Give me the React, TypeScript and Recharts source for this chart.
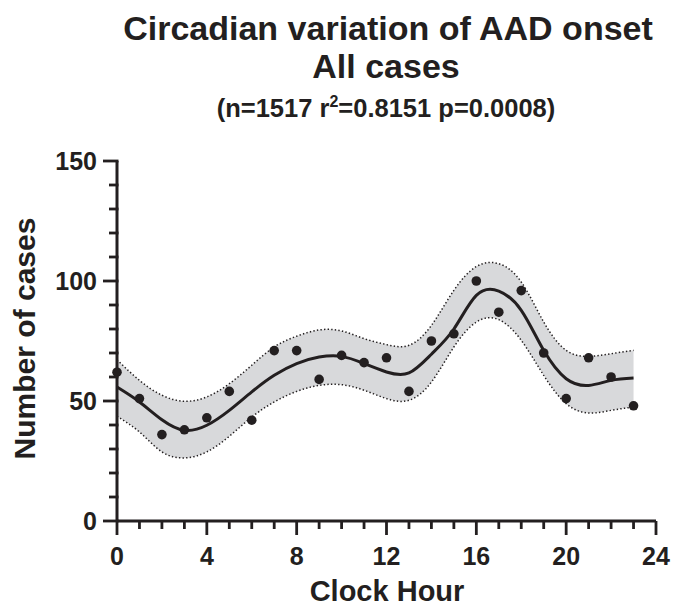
import { ComposedChart, Area, Line, Scatter, XAxis, YAxis } from "recharts";

const hours = [0, 1, 2, 3, 4, 5, 6, 7, 8, 9, 10, 11, 12, 13, 14, 15, 16, 17, 18, 19, 20, 21, 22, 23];
const cases = [62, 51, 36, 38, 43, 54, 42, 71, 71, 59, 69, 66, 68, 54, 75, 78, 100, 87, 96, 70, 51, 68, 60, 48];
// fitted curve and its band at each hour
const fit = [55.8, 49.6, 42.2, 37.8, 39.9, 46.1, 53.8, 60.7, 65.6, 68.3, 68.6, 65.6, 62.1, 61.7, 69.5, 80.0, 94.0, 95.8, 87.8, 71.1, 59.3, 56.5, 58.6, 59.6];
const upper = [67.2, 58.6, 52.4, 49.9, 51.7, 57.2, 64.9, 72.5, 77.0, 79.6, 79.2, 76.0, 73.5, 73.2, 81.5, 96.1, 106.0, 107.2, 99.6, 82.9, 71.1, 68.6, 69.7, 71.1];
const lower = [43.6, 37.1, 28.8, 26.3, 28.8, 35.3, 43.3, 49.6, 54.0, 56.5, 56.8, 54.5, 51.0, 50.3, 57.9, 72.5, 82.9, 83.9, 75.3, 60.7, 48.9, 45.0, 46.1, 47.5];

const xTicks = [0, 1, 2, 3, 4, 5, 6, 7, 8, 9, 10, 11, 12, 13, 14, 15, 16, 17, 18, 19, 20, 21, 22, 23, 24];
const xLabels = [0, 4, 8, 12, 16, 20, 24];
const yTicks = [0, 10, 20, 30, 40, 50, 60, 70, 80, 90, 100, 110, 120, 130, 140, 150];
const yLabels = [0, 50, 100, 150];

const INK = "#231f20";
const FONT = "'Liberation Sans', Arial, Helvetica, sans-serif";

const data = hours.map((h, i) => ({
  hour: h,
  cases: cases[i],
  fit: fit[i],
  upper: upper[i],
  lower: lower[i],
  band: [lower[i], upper[i]],
}));

function XTick(props: any) {
  const { x, y, payload } = props;
  const major = xLabels.includes(payload.value);
  return (
    <g>
      <line x1={x} x2={x} y1={y} y2={y + (major ? 14 : 8)} stroke={INK} strokeWidth={2.8} />
      {major && (
        <text x={x} y={y + 44} textAnchor="middle" fontFamily={FONT} fontWeight="bold" fontSize={25} fill={INK}>
          {payload.value}
        </text>
      )}
    </g>
  );
}

function YTick(props: any) {
  const { x, y, payload } = props;
  const major = yLabels.includes(payload.value);
  return (
    <g>
      <line x1={x - (major ? 14 : 8)} x2={x + 1.5} y1={y} y2={y} stroke={INK} strokeWidth={2.8} />
      {major && (
        <text x={x - 20} y={y} dy="0.36em" textAnchor="end" fontFamily={FONT} fontWeight="bold" fontSize={25} fill={INK}>
          {payload.value}
        </text>
      )}
    </g>
  );
}

const Dot = (p: any) => <circle cx={p.cx} cy={p.cy} r={4.8} fill={INK} />;

export default function App() {
  return (
    <div style={{ position: "absolute", left: 0, top: 0, width: 686, height: 607, background: "#fff" }}>
      <ComposedChart width={686} height={607} data={data} margin={{ top: 161, right: 30, bottom: 0, left: 0 }}>
        <XAxis
          dataKey="hour"
          type="number"
          domain={[0, 24]}
          ticks={xTicks}
          interval={0}
          height={86}
          tickSize={0}
          tickMargin={0}
          tickLine={false}
          axisLine={{ stroke: INK, strokeWidth: 3 }}
          tick={<XTick />}
        />
        <YAxis
          type="number"
          domain={[0, 150]}
          ticks={yTicks}
          interval={0}
          width={117}
          tickSize={0}
          tickMargin={0}
          tickLine={false}
          axisLine={{ stroke: INK, strokeWidth: 3 }}
          tick={<YTick />}
        />
        <Area dataKey="band" type="natural" stroke="none" fill="#d8d9db" fillOpacity={1} isAnimationActive={false} />
        <Line dataKey="upper" type="natural" stroke={INK} strokeWidth={1.5} strokeDasharray="1.4 2.2" dot={false} activeDot={false} isAnimationActive={false} />
        <Line dataKey="lower" type="natural" stroke={INK} strokeWidth={1.5} strokeDasharray="1.4 2.2" dot={false} activeDot={false} isAnimationActive={false} />
        <Line dataKey="fit" type="natural" stroke={INK} strokeWidth={3} dot={false} activeDot={false} isAnimationActive={false} />
        <Scatter dataKey="cases" shape={Dot} isAnimationActive={false} />
      </ComposedChart>
      <svg width={686} height={607} style={{ position: "absolute", left: 0, top: 0, pointerEvents: "none" }}>
        <g fontFamily={FONT} fontWeight="bold" fill={INK} textAnchor="middle">
          <text x={388} y={39.5} fontSize={34}>Circadian variation of AAD onset</text>
          <text x={386} y={77.5} fontSize={34}>All cases</text>
          <text x={386} y={116.5} fontSize={25.5}>
            (n=1517 r<tspan fontSize={16} dy={-10}>2</tspan>
            <tspan dy={10}>=0.8151 p=0.0008)</tspan>
          </text>
          <text x={387} y={601} fontSize={29}>Clock Hour</text>
          <text transform="translate(35,338.5) rotate(-90)" x={0} y={0} fontSize={30}>Number of cases</text>
        </g>
      </svg>
    </div>
  );
}
